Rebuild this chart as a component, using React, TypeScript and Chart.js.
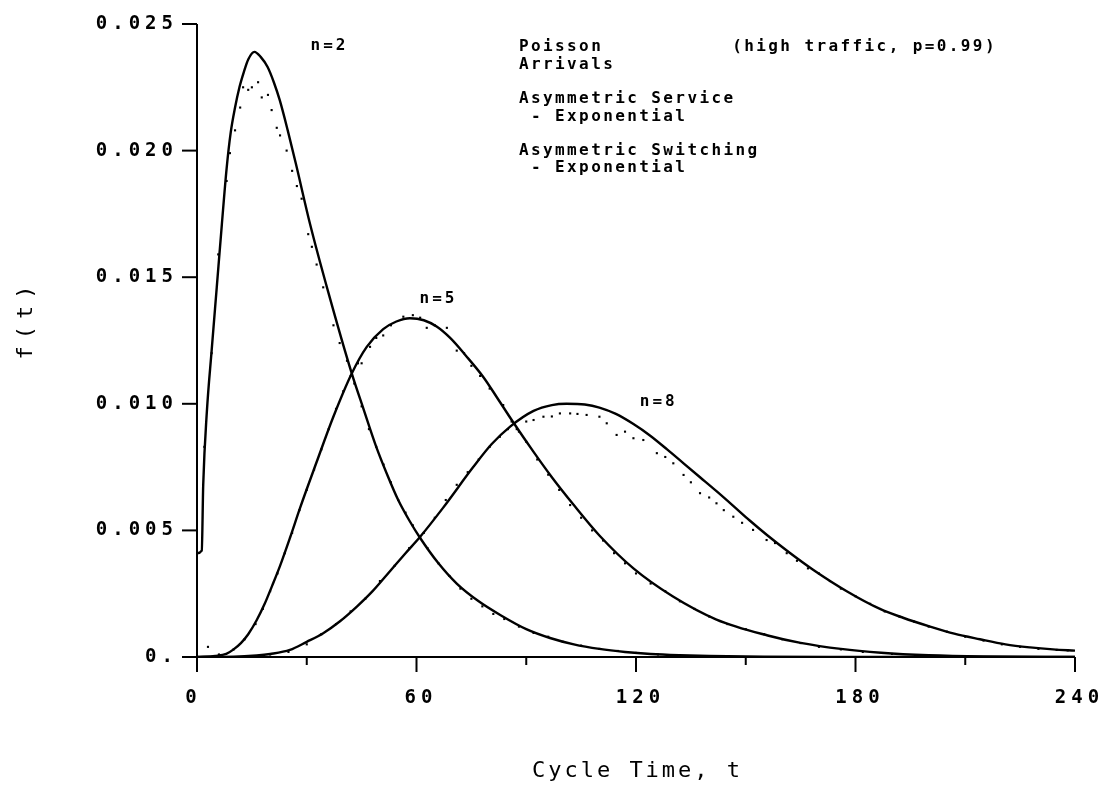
import React, { useEffect, useRef } from "react";
import { Chart, registerables } from "chart.js";

Chart.register(...registerables);

// ---------- axes ----------
const X_MIN = 0;
const X_MAX = 240;
const Y_MIN = 0;
const Y_MAX = 0.025;
const xMajorTicks = [0, 60, 120, 180, 240];
const xMinorTicks = [30, 90, 150, 210];
const xTickLabels = ["0", "60", "120", "180", "240"];
const yTicks = [0, 0.005, 0.01, 0.015, 0.02, 0.025];
const yTickLabels = ["0.", "0.005", "0.010", "0.015", "0.020", "0.025"];
const xTitle = "Cycle Time, t";
const yTitle = "f(t)";

// ---------- analytic curves (solid) ----------
const n2T = [0, 1.3, 1.7, 2.7, 4, 5.4, 6.8, 8.1, 9.2, 10.4, 11.6, 12.8, 14, 15.7, 17.4, 19.3, 21, 22.6, 24.8, 27, 30.9, 35.9, 42.3, 45.5, 49, 52, 55, 58, 61, 66, 71, 77, 83, 90, 96.5, 103, 110, 117, 124, 132, 140, 155, 175, 200, 240];
const n2F = [0.0041, 0.0042, 0.0068, 0.0097, 0.0121, 0.0146, 0.0171, 0.0193, 0.0207, 0.0217, 0.0225, 0.0231, 0.0236, 0.0239, 0.0237, 0.0233, 0.0227, 0.022, 0.0208, 0.0195, 0.0171, 0.0144, 0.0112, 0.0098, 0.0083, 0.0072, 0.0062, 0.0054, 0.0047, 0.0037, 0.0029, 0.0022, 0.00165, 0.0011, 0.00075, 0.0005, 0.00032, 0.0002, 0.00012, 0.00007, 0.00004, 0.000015, 0.000005, 0, 0];

const n5T = [0, 5, 8, 10, 12, 14, 16.3, 18.5, 20.5, 22.7, 25.4, 28.2, 32.7, 37.3, 42.3, 46.4, 50.9, 54.5, 58.2, 62, 65.5, 69.2, 73.5, 78.3, 82, 86.3, 92, 97, 103, 110, 119.3, 130, 142, 156, 165, 176, 187, 200, 215, 240];
const n5F = [0, 0.00004, 0.00012, 0.0003, 0.00055, 0.0009, 0.00145, 0.0021, 0.0028, 0.0036, 0.0047, 0.0059, 0.0077, 0.0095, 0.0112, 0.01225, 0.01295, 0.01325, 0.01338, 0.0133, 0.01305, 0.0126, 0.0119, 0.01105, 0.01025, 0.0093, 0.0081, 0.0071, 0.006, 0.0048, 0.0035, 0.0024, 0.00148, 0.00085, 0.00056, 0.00032, 0.00017, 0.00007, 0.00002, 0];

const n8T = [0, 10, 16.3, 20, 25.4, 30, 34.5, 39, 43.7, 48, 52.8, 57, 61, 67.3, 75.5, 80.5, 85.6, 92, 97, 101, 106, 110, 114.5, 119.3, 123.8, 128.5, 133, 137.5, 142, 146.5, 151, 155.8, 162, 168.4, 177.6, 186.7, 193, 200.4, 207, 214, 221, 227.7, 234, 240];
const n8F = [0, 0.00001, 0.00006, 0.00012, 0.00028, 0.0006, 0.00094, 0.0014, 0.00199, 0.0026, 0.0034, 0.0041, 0.00475, 0.0059, 0.0075, 0.0084, 0.0091, 0.00972, 0.00995, 0.01, 0.00997, 0.00985, 0.0096, 0.0092, 0.00875, 0.0082, 0.00765, 0.0071, 0.00655, 0.00598, 0.0054, 0.00482, 0.00412, 0.00345, 0.0026, 0.0019, 0.00155, 0.0012, 0.00092, 0.0007, 0.0005, 0.00038, 0.0003, 0.00025];

// ---------- simulation points (dotted) ----------
const s2T = [2, 4, 5.8, 8.1, 9, 10.4, 11.8, 12.6, 14, 15, 16.7, 17.7, 19.4, 20.4, 21.8, 22.7, 24.5, 26, 27.3, 28.6, 30.4, 31.4, 32.7, 34.5, 37.3, 39, 41, 43, 45, 47, 49, 51, 53, 55, 57, 59, 61, 63, 66, 69, 72, 75, 78, 81, 84, 88, 92, 96, 100, 105, 110, 115, 120, 126, 132, 140];
const s2F = [0.0083, 0.012, 0.0159, 0.0188, 0.0199, 0.0208, 0.0217, 0.0225, 0.0224, 0.0225, 0.0227, 0.0221, 0.0222, 0.0216, 0.0209, 0.0206, 0.02, 0.0192, 0.0186, 0.0181, 0.0167, 0.0162, 0.0155, 0.0146, 0.0131, 0.0124, 0.0117, 0.0108, 0.0099, 0.009, 0.0083, 0.0076, 0.0069, 0.0062, 0.0057, 0.0052, 0.0047, 0.0043, 0.0037, 0.0032, 0.0027, 0.0023, 0.002, 0.0017, 0.0015, 0.0012, 0.00095, 0.0008, 0.0006, 0.00045, 0.00032, 0.00024, 0.00016, 0.0001, 0.00006, 0.00003];

const s5T = [3, 6, 10, 13, 16, 18, 20, 22, 24, 26, 28, 30, 32, 34, 36, 38, 40, 42, 44, 45, 47.3, 49, 50.9, 53, 56.4, 59, 61, 62.8, 65, 68.3, 71, 73, 75, 77.4, 80, 83.7, 86, 88, 90, 93, 96, 99, 102, 105, 108, 111, 114, 117, 120, 124, 128, 132, 136, 140, 145, 150, 155, 160, 165, 170, 176, 182, 190, 200, 210];
const s5F = [0.0004, 0.0001, 0.0003, 0.0007, 0.0013, 0.0019, 0.0026, 0.0033, 0.0041, 0.0049, 0.0058, 0.0066, 0.0074, 0.0082, 0.009, 0.0098, 0.0105, 0.0111, 0.0116, 0.0116, 0.01225, 0.0126, 0.0127, 0.0131, 0.01344, 0.0135, 0.0134, 0.013, 0.0131, 0.013, 0.0121, 0.012, 0.0115, 0.0111, 0.0106, 0.00995, 0.0093, 0.0089, 0.0085, 0.0078, 0.0072, 0.0066, 0.006, 0.0055, 0.005, 0.0046, 0.0041, 0.0037, 0.0033, 0.0029, 0.0026, 0.0022, 0.0019, 0.0016, 0.0013, 0.0011, 0.0009, 0.0007, 0.00055, 0.0004, 0.0003, 0.0002, 0.00012, 0.00006, 0.00003];

const s8T = [20, 25, 30, 34, 38, 42, 46, 50, 54, 58, 62, 65, 68, 71, 74, 77, 80, 82.8, 85, 87.4, 90, 92, 94.7, 97, 99.2, 102, 104, 106.5, 110, 112, 114.7, 117, 119.3, 122, 125.7, 128, 130.2, 133, 135, 137.5, 140, 142, 144, 146.6, 149, 152, 155.7, 158, 161.2, 164, 167, 170, 173, 176, 180, 184, 188, 192, 196, 200, 205, 210, 215, 220, 225, 230, 235, 238];
const s8F = [0.0001, 0.0002, 0.0005, 0.0009, 0.0013, 0.0018, 0.0023, 0.003, 0.0036, 0.0043, 0.0049, 0.0055, 0.0062, 0.0068, 0.0073, 0.0078, 0.0083, 0.0087, 0.009, 0.009, 0.0093, 0.00936, 0.00949, 0.0095, 0.00962, 0.00962, 0.0096, 0.00956, 0.00949, 0.00923, 0.00877, 0.0089, 0.00864, 0.00857, 0.00805, 0.0079, 0.00765, 0.00719, 0.0069, 0.00647, 0.0063, 0.00607, 0.0058, 0.00554, 0.0053, 0.00502, 0.00462, 0.0045, 0.0041, 0.0038, 0.0035, 0.0033, 0.003, 0.0027, 0.0024, 0.0021, 0.0018, 0.0016, 0.0014, 0.0012, 0.001, 0.0008, 0.00065, 0.0005, 0.0004, 0.00032, 0.00028, 0.00026];

// ---------- annotation texts ----------
const curveLabels = ["n=2", "n=5", "n=8"];
const curveLabelT = [35.8, 65.6, 125.8];
const curveLabelF = [0.02413, 0.01414, 0.01007];
const noteLines = ["Poisson", "Arrivals", "Asymmetric Service", " - Exponential", "Asymmetric Switching", " - Exponential", "(high traffic, p=0.99)"];
const noteT = [88.0, 88.0, 88.0, 88.0, 88.0, 88.0, 146.3];
const noteF = [0.02409, 0.02338, 0.02204, 0.02133, 0.01998, 0.01931, 0.02409];

const toXY = (t: number[], f: number[]) => t.map((v, i) => ({ x: v, y: f[i] }));

const MONO = '"DejaVu Sans Mono", "Liberation Mono", monospace';

function drawText(ctx: CanvasRenderingContext2D, text: string, x: number, y: number, font: string, spacing: number, align: CanvasTextAlign) {
  ctx.save();
  ctx.font = font;
  (ctx as any).letterSpacing = spacing + "px";
  ctx.textBaseline = "middle";
  const w = ctx.measureText(text).width;
  let sx = x;
  if (align === "center") sx = x - (w - spacing) / 2;
  else if (align === "right") sx = x - w + spacing;
  ctx.textAlign = "left";
  ctx.fillText(text, sx, y);
  ctx.restore();
}

const plotterPlugin = {
  id: "plotterAxes",
  afterDraw(chart: any) {
    const ctx: CanvasRenderingContext2D = chart.ctx;
    const xs = chart.scales.x;
    const ys = chart.scales.y;
    const x0 = xs.getPixelForValue(X_MIN);
    const x1 = xs.getPixelForValue(X_MAX);
    const y0 = ys.getPixelForValue(Y_MIN);
    const y1 = ys.getPixelForValue(Y_MAX);
    ctx.save();
    ctx.strokeStyle = "#000";
    ctx.fillStyle = "#000";
    ctx.lineWidth = 2;
    ctx.lineCap = "butt";
    // axis lines
    ctx.beginPath();
    ctx.moveTo(x0, y1);
    ctx.lineTo(x0, y0 + 8);
    ctx.moveTo(x0 - 14, y0);
    ctx.lineTo(x1, y0);
    ctx.stroke();
    // y ticks + labels
    yTicks.forEach((v, i) => {
      const py = ys.getPixelForValue(v);
      ctx.beginPath();
      ctx.moveTo(x0 - 15, py);
      ctx.lineTo(x0, py);
      ctx.stroke();
      drawText(ctx, yTickLabels[i], x0 - 24, py, "bold 19px " + MONO, 5, "right");
    });
    // x ticks + labels
    xMajorTicks.forEach((v, i) => {
      const px = xs.getPixelForValue(v);
      ctx.beginPath();
      ctx.moveTo(px, y0);
      ctx.lineTo(px, y0 + 15);
      ctx.stroke();
      drawText(ctx, xTickLabels[i], px + (i === 0 ? -6 : 2), y0 + 41, "bold 19px " + MONO, 5, "center");
    });
    xMinorTicks.forEach((v) => {
      const px = xs.getPixelForValue(v);
      ctx.beginPath();
      ctx.moveTo(px, y0);
      ctx.lineTo(px, y0 + 8);
      ctx.stroke();
    });
    // axis titles
    drawText(ctx, xTitle, (x0 + x1) / 2, y0 + 114, "22px " + MONO, 3, "center");
    ctx.save();
    ctx.translate(26, (y0 + y1) / 2 - 18);
    ctx.rotate(-Math.PI / 2);
    drawText(ctx, yTitle, 0, 0, "22px " + MONO, 7, "center");
    ctx.restore();
    // curve labels
    curveLabels.forEach((s, i) => {
      drawText(ctx, s, xs.getPixelForValue(curveLabelT[i]), ys.getPixelForValue(curveLabelF[i]), "bold 16px " + MONO, 3, "center");
    });
    // notes
    noteLines.forEach((s, i) => {
      drawText(ctx, s, xs.getPixelForValue(noteT[i]), ys.getPixelForValue(noteF[i]), "bold 16px " + MONO, 2.4, "left");
    });
    ctx.restore();
  },
};

export default function App() {
  const canvasRef = useRef<HTMLCanvasElement | null>(null);

  useEffect(() => {
    if (!canvasRef.current) return;
    const curve = (label: string, t: number[], f: number[]) => ({
      type: "line" as const,
      label,
      data: toXY(t, f),
      borderColor: "#000",
      borderWidth: 2.4,
      pointRadius: 0,
      fill: false,
      cubicInterpolationMode: "monotone" as const,
    });
    const sim = (label: string, t: number[], f: number[]) => ({
      type: "line" as const,
      label,
      data: toXY(t, f),
      showLine: false,
      borderColor: "#000",
      backgroundColor: "#000",
      pointStyle: "rect" as const,
      pointRadius: 1.5,
      pointBorderWidth: 0,
    });
    const chart = new Chart(canvasRef.current, {
      type: "line",
      data: {
        datasets: [
          curve("n=2", n2T, n2F),
          curve("n=5", n5T, n5F),
          curve("n=8", n8T, n8F),
          sim("n=2 simulation", s2T, s2F),
          sim("n=5 simulation", s5T, s5F),
          sim("n=8 simulation", s8T, s8F),
        ],
      },
      options: {
        responsive: false,
        animation: false,
        devicePixelRatio: 1,
        layout: { padding: { left: 197, top: 24, right: 34, bottom: 152 } },
        plugins: { legend: { display: false }, tooltip: { enabled: false } },
        scales: {
          x: { type: "linear", min: X_MIN, max: X_MAX, display: false },
          y: { type: "linear", min: Y_MIN, max: Y_MAX, display: false },
        },
      },
      plugins: [plotterPlugin],
    });
    return () => chart.destroy();
  }, []);

  return (
    <div style={{ position: "absolute", left: 0, top: 0, width: 1109, height: 809, background: "#fff" }}>
      <canvas ref={canvasRef} width={1109} height={809} style={{ display: "block" }} />
    </div>
  );
}
